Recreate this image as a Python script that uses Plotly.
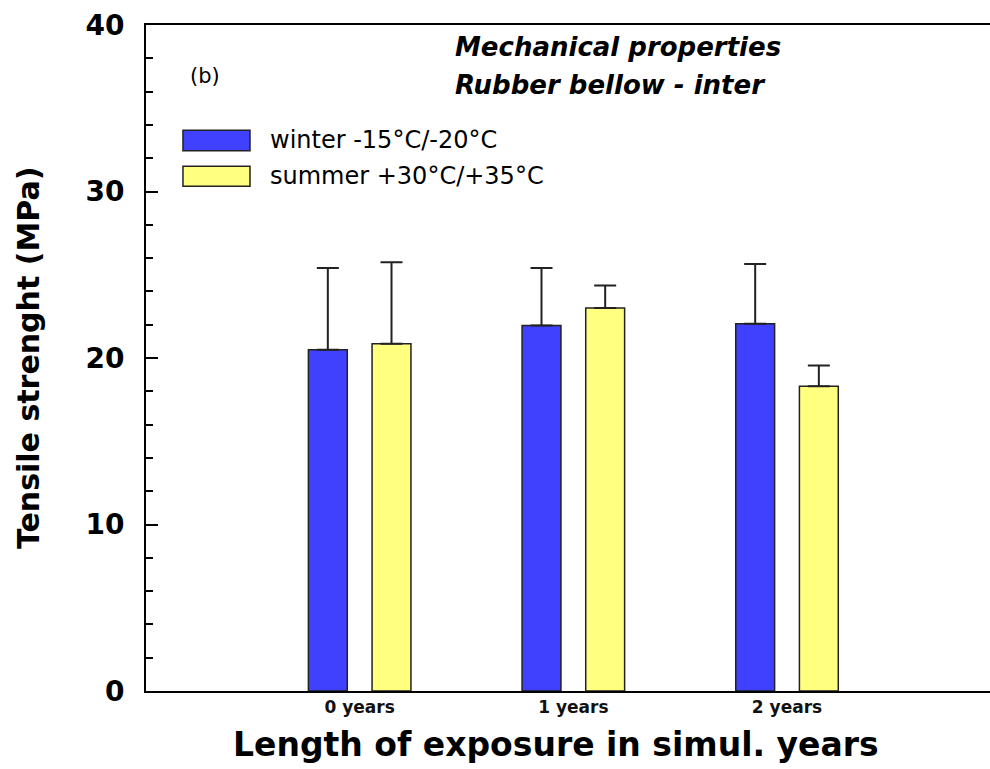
import plotly.graph_objs as go

# data
categories = [0, 1, 2]
cat_labels = ["0 years", "1 years", "2 years"]
winter = [20.5, 21.95, 22.05]
winter_err = [4.9, 3.45, 3.6]
summer = [20.85, 23.0, 18.3]
summer_err = [4.9, 1.35, 1.25]
names = ["winter -15°C/-20°C", "summer +30°C/+35°C"]

blue = "#4040FF"
yellow = "#FFFF80"
edge = "#222222"

bar_w = 0.182


def bar_trace(vals, errs, name, color, offset):
    return go.Bar(
        x=categories, y=vals, name=name, width=bar_w, offset=offset,
        marker=dict(color=color, line=dict(color=edge, width=1.5)),
        error_y=dict(type="data", symmetric=False, array=errs,
                     arrayminus=[0] * len(errs), color="#222222",
                     thickness=2, width=11),
        showlegend=False)


data = [bar_trace(winter, winter_err, names[0], blue, -0.24),
        bar_trace(summer, summer_err, names[1], yellow, 0.058)]

layout = go.Layout(
    width=990, height=769,
    margin=dict(l=146, r=0, t=25, b=78),
    paper_bgcolor="white", plot_bgcolor="white",
    barmode="overlay",
    xaxis=dict(range=[-1, 2.95], tickvals=categories, ticktext=cat_labels,
               showline=True, linecolor="black", linewidth=2, mirror=True,
               ticks="", showgrid=False, zeroline=False,
               tickfont=dict(family="DejaVu Sans", size=17, color="#111111",
                             weight="bold")),
    yaxis=dict(range=[0, 40], dtick=10, showline=True, linecolor="black",
               linewidth=2, ticks="inside", ticklen=12, tickwidth=2,
               tickcolor="black", showgrid=False, zeroline=False,
               ticklabelstandoff=14,
               minor=dict(dtick=2, ticks="inside", ticklen=7, tickwidth=1.5,
                          tickcolor="black"),
               tickfont=dict(family="DejaVu Sans", size=28, color="black",
                             weight="bold")),
    shapes=[
        # legend keys
        dict(type="rect", xref="paper", yref="paper", x0=0.0438, x1=0.1232,
             y0=0.811, y1=0.842, fillcolor=blue, line=dict(color=edge, width=1.5)),
        dict(type="rect", xref="paper", yref="paper", x0=0.0438, x1=0.1232,
             y0=0.758, y1=0.788, fillcolor=yellow, line=dict(color=edge, width=1.5)),
    ],
    annotations=[
        dict(text=names[0], xref="paper", yref="paper", x=0.1445, y=0.8266,
             xanchor="left", yanchor="middle", showarrow=False,
             font=dict(family="DejaVu Sans", size=24, color="black")),
        dict(text=names[1], xref="paper", yref="paper", x=0.1445, y=0.7733,
             xanchor="left", yanchor="middle", showarrow=False,
             font=dict(family="DejaVu Sans", size=24, color="black")),
        dict(text="(b)", xref="paper", yref="paper", x=0.07, y=0.923,
             xanchor="center", yanchor="middle", showarrow=False,
             font=dict(family="DejaVu Sans", size=21, color="black")),
        dict(text="<b><i>Mechanical properties</i></b>", xref="paper", yref="paper",
             x=0.3637, y=0.967, xanchor="left", yanchor="middle", showarrow=False,
             font=dict(family="DejaVu Sans", size=26, color="black")),
        dict(text="<b><i>Rubber bellow - inter</i></b>", xref="paper", yref="paper",
             x=0.3637, y=0.91, xanchor="left", yanchor="middle", showarrow=False,
             font=dict(family="DejaVu Sans", size=26, color="black")),
        dict(text="<b>Length of exposure in simul. years</b>", xref="paper",
             yref="paper", x=0.486, y=-0.081, xanchor="center", yanchor="middle",
             showarrow=False,
             font=dict(family="DejaVu Sans", size=33, color="black")),
        dict(text="<b>Tensile strenght (MPa)</b>", xref="paper", yref="paper",
             x=-0.1398, y=0.5, xanchor="center", yanchor="middle", textangle=-90,
             showarrow=False,
             font=dict(family="DejaVu Sans", size=30, color="black")),
    ],
)

fig = go.Figure(data=data, layout=layout)
fig.write_html("out.html", config={"displayModeBar": False},
               post_script="document.body.style.margin='0';"
                           "document.body.style.overflow='hidden';")
